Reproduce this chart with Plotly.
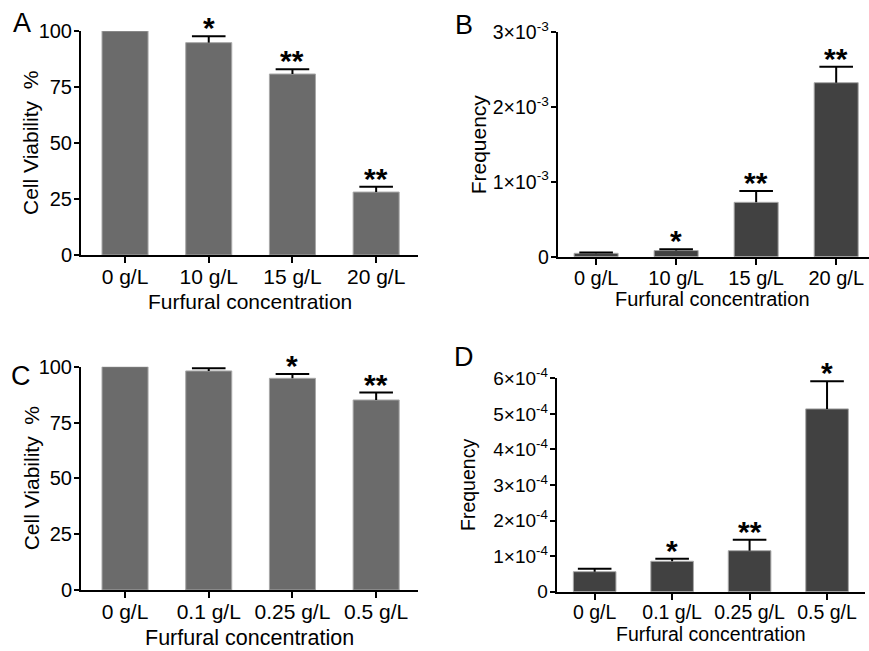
import plotly.graph_objects as go

W, H = 869, 651

# ---- data -------------------------------------------------------------
cats_high = ["0 g/L", "10 g/L", "15 g/L", "20 g/L"]
cats_low = ["0 g/L", "0.1 g/L", "0.25 g/L", "0.5 g/L"]

# A: cell viability (%) at high furfural levels
viab_high = [100, 94.8, 80.8, 28.1]
viab_high_err = [0, 2.9, 2.1, 2.4]
viab_high_sig = ["", "*", "**", "**"]

# B: frequency at high furfural levels
freq_high = [0.045e-3, 0.082e-3, 0.726e-3, 2.323e-3]
freq_high_err = [0.012e-3, 0.018e-3, 0.151e-3, 0.214e-3]
freq_high_sig = ["", "*", "**", "**"]

# C: cell viability (%) at low furfural levels
viab_low = [100, 98.1, 94.8, 85.1]
viab_low_err = [0, 1.2, 1.9, 3.3]
viab_low_sig = ["", "", "*", "**"]

# D: frequency at low furfural levels
freq_low = [0.563e-4, 0.855e-4, 1.153e-4, 5.14e-4]
freq_low_err = [0.084e-4, 0.073e-4, 0.31e-4, 0.78e-4]
freq_low_sig = ["", "*", "**", "*"]

# y tick values / labels
viab_ticks = [0, 25, 50, 75, 100]
freq_high_ticks = [0, 1e-3, 2e-3, 3e-3]
freq_high_ticktext = ["0", "1×10<sup>-3</sup>", "2×10<sup>-3</sup>", "3×10<sup>-3</sup>"]
freq_low_ticks = [0, 1e-4, 2e-4, 3e-4, 4e-4, 5e-4, 6e-4]
freq_low_ticktext = ["0"] + [f"{k}×10<sup>-4</sup>" for k in range(1, 7)]

# ---- panel geometry (pixels) -----------------------------------------
FONT = "Liberation Sans, Arial, Helvetica, sans-serif"
GRAY = "#6b6b6b"
DARK = "#414141"

panels = [
    dict(letter="A", cats=cats_high, vals=viab_high, errs=viab_high_err, sig=viab_high_sig,
         color=GRAY, ytitle="Cell Viability\u00a0 %", yrange=[0, 100],
         tickvals=viab_ticks, ticktext=[str(t) for t in viab_ticks],
         x0=81, x1=418, ytop=31, ybot=255, xr=[-0.526, 3.5],
         letter_xy=(22, 23), ytitle_x=30, xtitle_dy=46,
         xfs=21, yfs=20, tfs=21, ytfs=21),
    dict(letter="B", cats=cats_high, vals=freq_high, errs=freq_high_err, sig=freq_high_sig,
         color=DARK, ytitle="Frequency", yrange=[0, 3e-3],
         tickvals=freq_high_ticks, ticktext=freq_high_ticktext,
         x0=557.7, x1=869, ytop=32, ybot=256.7, xr=[-0.48, 3.41],
         letter_xy=(464, 25), ytitle_x=478, xtitle_dy=42, xtitle_cx=712,
         xfs=20, yfs=19.5, tfs=20, ytfs=21),
    dict(letter="C", cats=cats_low, vals=viab_low, errs=viab_low_err, sig=viab_low_sig,
         color=GRAY, ytitle="Cell Viability\u00a0 %", yrange=[0, 100],
         tickvals=viab_ticks, ticktext=[str(t) for t in viab_ticks],
         x0=81, x1=418, ytop=366.7, ybot=590, xr=[-0.526, 3.5],
         letter_xy=(21, 376), ytitle_x=31, xtitle_dy=48,
         xfs=21, yfs=20, tfs=21.5, ytfs=21),
    dict(letter="D", cats=cats_low, vals=freq_low, errs=freq_low_err, sig=freq_low_sig,
         color=DARK, ytitle="Frequency", yrange=[0, 6e-4],
         tickvals=freq_low_ticks, ticktext=freq_low_ticktext,
         x0=556.7, x1=865, ytop=378.3, ybot=591.7, xr=[-0.49, 3.49],
         letter_xy=(464, 357), ytitle_x=468, xtitle_dy=42,
         xfs=19.5, yfs=19, tfs=19.5, ytfs=19.5),
]


def px_x(x):
    return x / W


def px_y(y):
    return 1 - y / H


fig = go.Figure()
annotations = []

for i, p in enumerate(panels, start=1):
    xa = "x" if i == 1 else f"x{i}"
    ya = "y" if i == 1 else f"y{i}"

    fig.add_trace(go.Bar(
        x=p["cats"], y=p["vals"], width=0.55, xaxis=xa, yaxis=ya,
        marker=dict(color=p["color"], line=dict(color="#a8a8a8", width=1)),
        hoverinfo="skip",
    ))

    # upper error bars: stem from bar top plus a horizontal cap
    ex, ey, cx, cy = [], [], [], []
    for c, v, e in zip(p["cats"], p["vals"], p["errs"]):
        if e <= 0:
            continue
        ex += [c, c, None]
        ey += [v, v + e, None]
        cx.append(c)
        cy.append(v + e)
    fig.add_trace(go.Scatter(
        x=ex, y=ey, mode="lines", xaxis=xa, yaxis=ya,
        line=dict(color="black", width=2), hoverinfo="skip", cliponaxis=False,
    ))
    fig.add_trace(go.Scatter(
        x=cx, y=cy, mode="markers", xaxis=xa, yaxis=ya,
        marker=dict(symbol="line-ew", size=24, line=dict(color="black", width=2)),
        hoverinfo="skip", cliponaxis=False,
    ))

    # significance stars
    for c, v, e, s in zip(p["cats"], p["vals"], p["errs"], p["sig"]):
        if not s:
            continue
        annotations.append(dict(
            x=c, y=v + e, xref=xa, yref=ya, text=s, showarrow=False,
            yanchor="bottom", yshift=-10,
            font=dict(family=FONT, size=30, color="black", weight="bold"),
        ))

    axis_common = dict(
        showline=True, linecolor="black", linewidth=2, mirror=False,
        ticks="outside", ticklen=5, tickwidth=2, tickcolor="black",
        showgrid=False, zeroline=False, automargin=False,
    )
    fig.update_layout({
        ("xaxis" if i == 1 else f"xaxis{i}"): dict(
            axis_common, domain=[px_x(p["x0"]), px_x(p["x1"])],
            anchor=ya, range=p["xr"], type="category", ticklen=6,
            ticklabelstandoff=-4,
            tickfont=dict(family=FONT, size=p["xfs"], color="black"),
        ),
        ("yaxis" if i == 1 else f"yaxis{i}"): dict(
            axis_common, domain=[px_y(p["ybot"]), px_y(p["ytop"])],
            anchor=xa, range=p["yrange"], ticklabelstandoff=-2,
            tickmode="array", tickvals=p["tickvals"], ticktext=p["ticktext"],
            tickfont=dict(family=FONT, size=p["yfs"], color="black"),
        ),
    })

    # panel letter
    lx, ly = p["letter_xy"]
    annotations.append(dict(
        x=px_x(lx), y=px_y(ly), xref="paper", yref="paper", text=p["letter"],
        showarrow=False, xanchor="center", yanchor="middle",
        font=dict(family=FONT, size=27, color="black"),
    ))
    # y axis title
    annotations.append(dict(
        x=px_x(p["ytitle_x"]), y=px_y((p["ytop"] + p["ybot"]) / 2),
        xref="paper", yref="paper", text=p["ytitle"], textangle=-90,
        showarrow=False, xanchor="center", yanchor="middle",
        font=dict(family=FONT, size=p["ytfs"], color="black"),
    ))
    # x axis title
    xcx = p.get("xtitle_cx", (p["x0"] + p["x1"]) / 2)
    annotations.append(dict(
        x=px_x(xcx), y=px_y(p["ybot"] + p["xtitle_dy"]),
        xref="paper", yref="paper", text="Furfural concentration",
        showarrow=False, xanchor="center", yanchor="middle",
        font=dict(family=FONT, size=p["tfs"], color="black"),
    ))

fig.update_layout(
    template="none",
    width=W, height=H, margin=dict(l=0, r=0, t=0, b=0, autoexpand=False),
    paper_bgcolor="white", plot_bgcolor="white",
    showlegend=False, annotations=annotations, bargap=0.45,
)

fig.write_html("out.html")
